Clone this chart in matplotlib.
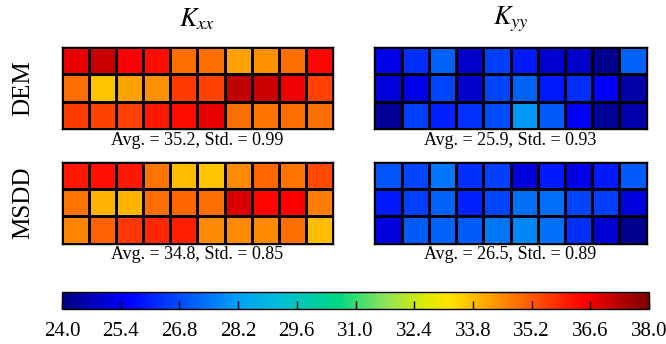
#!/usr/bin/env python3
# -*- coding: utf-8 -*-
"""
plot.py
-------
Permeability maps (Kxx, Kyy) from DEM and MSDD on a 3 x 10 grid.
"""

import numpy as np # Numerical Python
import matplotlib
matplotlib.use('Agg')
import matplotlib.pyplot as plt # Plotting Library
from matplotlib.colors import LinearSegmentedColormap as lsc # jet-like colormap
from matplotlib.ticker import FormatStrFormatter

#====================== DATA ================================================

methods = ['DEM', 'MSDD']
components = [r'$K_{xx}$', r'$K_{yy}$']

dem_kxx = [[36.7, 37.1, 36.5, 36.3, 34.9, 34.9, 34.2, 34.4, 34.9, 36.4],
           [34.9, 33.7, 34.2, 34.4, 35.6, 35.5, 37.2, 37.1, 36.6, 35.5],
           [35.6, 35.5, 35.5, 36.1, 36.3, 36.7, 34.9, 34.8, 34.9, 34.9]]

dem_kyy = [[25.3, 26.3, 27.2, 24.9, 26.6, 26.0, 25.0, 24.9, 24.2, 27.2],
           [25.1, 25.3, 26.7, 24.9, 26.7, 27.2, 26.0, 26.3, 25.5, 24.5],
           [24.3, 26.6, 26.1, 26.4, 26.8, 28.1, 27.1, 25.5, 24.3, 24.6]]

msdd_kxx = [[36.1, 36.2, 36.1, 34.8, 33.8, 33.7, 34.5, 35.0, 34.8, 35.4],
            [34.8, 33.9, 33.9, 34.9, 35.0, 34.9, 36.9, 36.4, 36.5, 34.7],
            [34.6, 35.1, 35.7, 35.9, 36.0, 34.5, 34.5, 34.5, 34.9, 33.8]]

msdd_kyy = [[27.0, 26.7, 27.5, 26.3, 26.6, 25.1, 26.0, 25.3, 26.0, 27.1],
            [26.0, 26.6, 27.2, 26.1, 26.7, 27.4, 27.4, 26.7, 26.6, 25.2],
            [25.2, 27.1, 27.2, 27.1, 27.5, 27.8, 27.4, 26.3, 25.0, 24.2]]

stats = [['Avg. = 35.2, Std. = 0.99', 'Avg. = 25.9, Std. = 0.93'],
         ['Avg. = 34.8, Std. = 0.85', 'Avg. = 26.5, Std. = 0.89']]

cbar_ticks = [24.0, 25.4, 26.8, 28.2, 29.6, 31.0, 32.4, 33.8, 35.2, 36.6, 38.0]

# colormap anchors (fraction, rgb)
cmap_nodes = [(0.00, (0, 0, 128)), (0.11, (0, 0, 255)), (0.30, (0, 160, 245)),
              (0.37, (0, 190, 215)), (0.47, (0, 215, 130)),
              (0.55, (140, 228, 90)), (0.62, (220, 235, 0)),
              (0.66, (255, 230, 0)), (0.89, (255, 0, 0)), (1.00, (128, 0, 0))]

#====================== FIGURE ==============================================

plt.rcParams['font.family'] = ['Liberation Serif', 'DejaVu Serif']
plt.rcParams['mathtext.fontset'] = 'stix'

cmap = lsc.from_list('kmap', [(f, tuple(c / 255. for c in rgb))
                              for f, rgb in cmap_nodes])

W, H = 666., 344.
fig = plt.figure(figsize=(W / 100., H / 100.), dpi=100)

def px_axes(x, y, w, h):
    # axes from pixel box (top-left origin)
    return fig.add_axes([x / W, 1. - (y + h) / H, w / W, h / H])

vmin, vmax = cbar_ticks[0], cbar_ticks[-1]
grids = [[dem_kxx, dem_kyy], [msdd_kxx, msdd_kyy]]
xs = [61.5, 374.5]
ys = [47., 161.7]
pw, ph = 272., 82.

for i in range(2):
    for j in range(2):
        ax = px_axes(xs[j], ys[i], pw, ph)
        data = np.array(grids[i][j])
        mesh = ax.pcolormesh(data, cmap=cmap, vmin=vmin, vmax=vmax,
                             edgecolors='k', linewidth=0.75)
        ax.set_xlim(0, data.shape[1])
        ax.set_ylim(data.shape[0], 0)
        ax.set_xticks([])
        ax.set_yticks([])
        for s in ax.spines.values():
            s.set_linewidth(1.0)
        fig.text((xs[j] + pw / 2.) / W, 1. - (ys[i] + ph + 11.) / H,
                 stats[i][j], ha='center', va='center', fontsize=13)
        if i == 0:
            fig.text((xs[j] + pw / 2.) / W, 1. - 19. / H, components[j],
                     ha='center', va='center', fontsize=19)
        if j == 0:
            fig.text(23. / W, 1. - (ys[i] + ph / 2.) / H, methods[i],
                     ha='center', va='center', rotation=90, fontsize=18)

# Common Colour Bar
cax = px_axes(62., 292., 587., 17.)
cb = fig.colorbar(mesh, cax=cax, orientation='horizontal', ticks=cbar_ticks)
cb.ax.xaxis.set_major_formatter(FormatStrFormatter('%.1f'))
cb.ax.tick_params(direction='in', length=6, width=1, labelsize=15, pad=9)
cb.outline.set_linewidth(1.0)

plt.savefig('out.png', dpi=100)
plt.close()
